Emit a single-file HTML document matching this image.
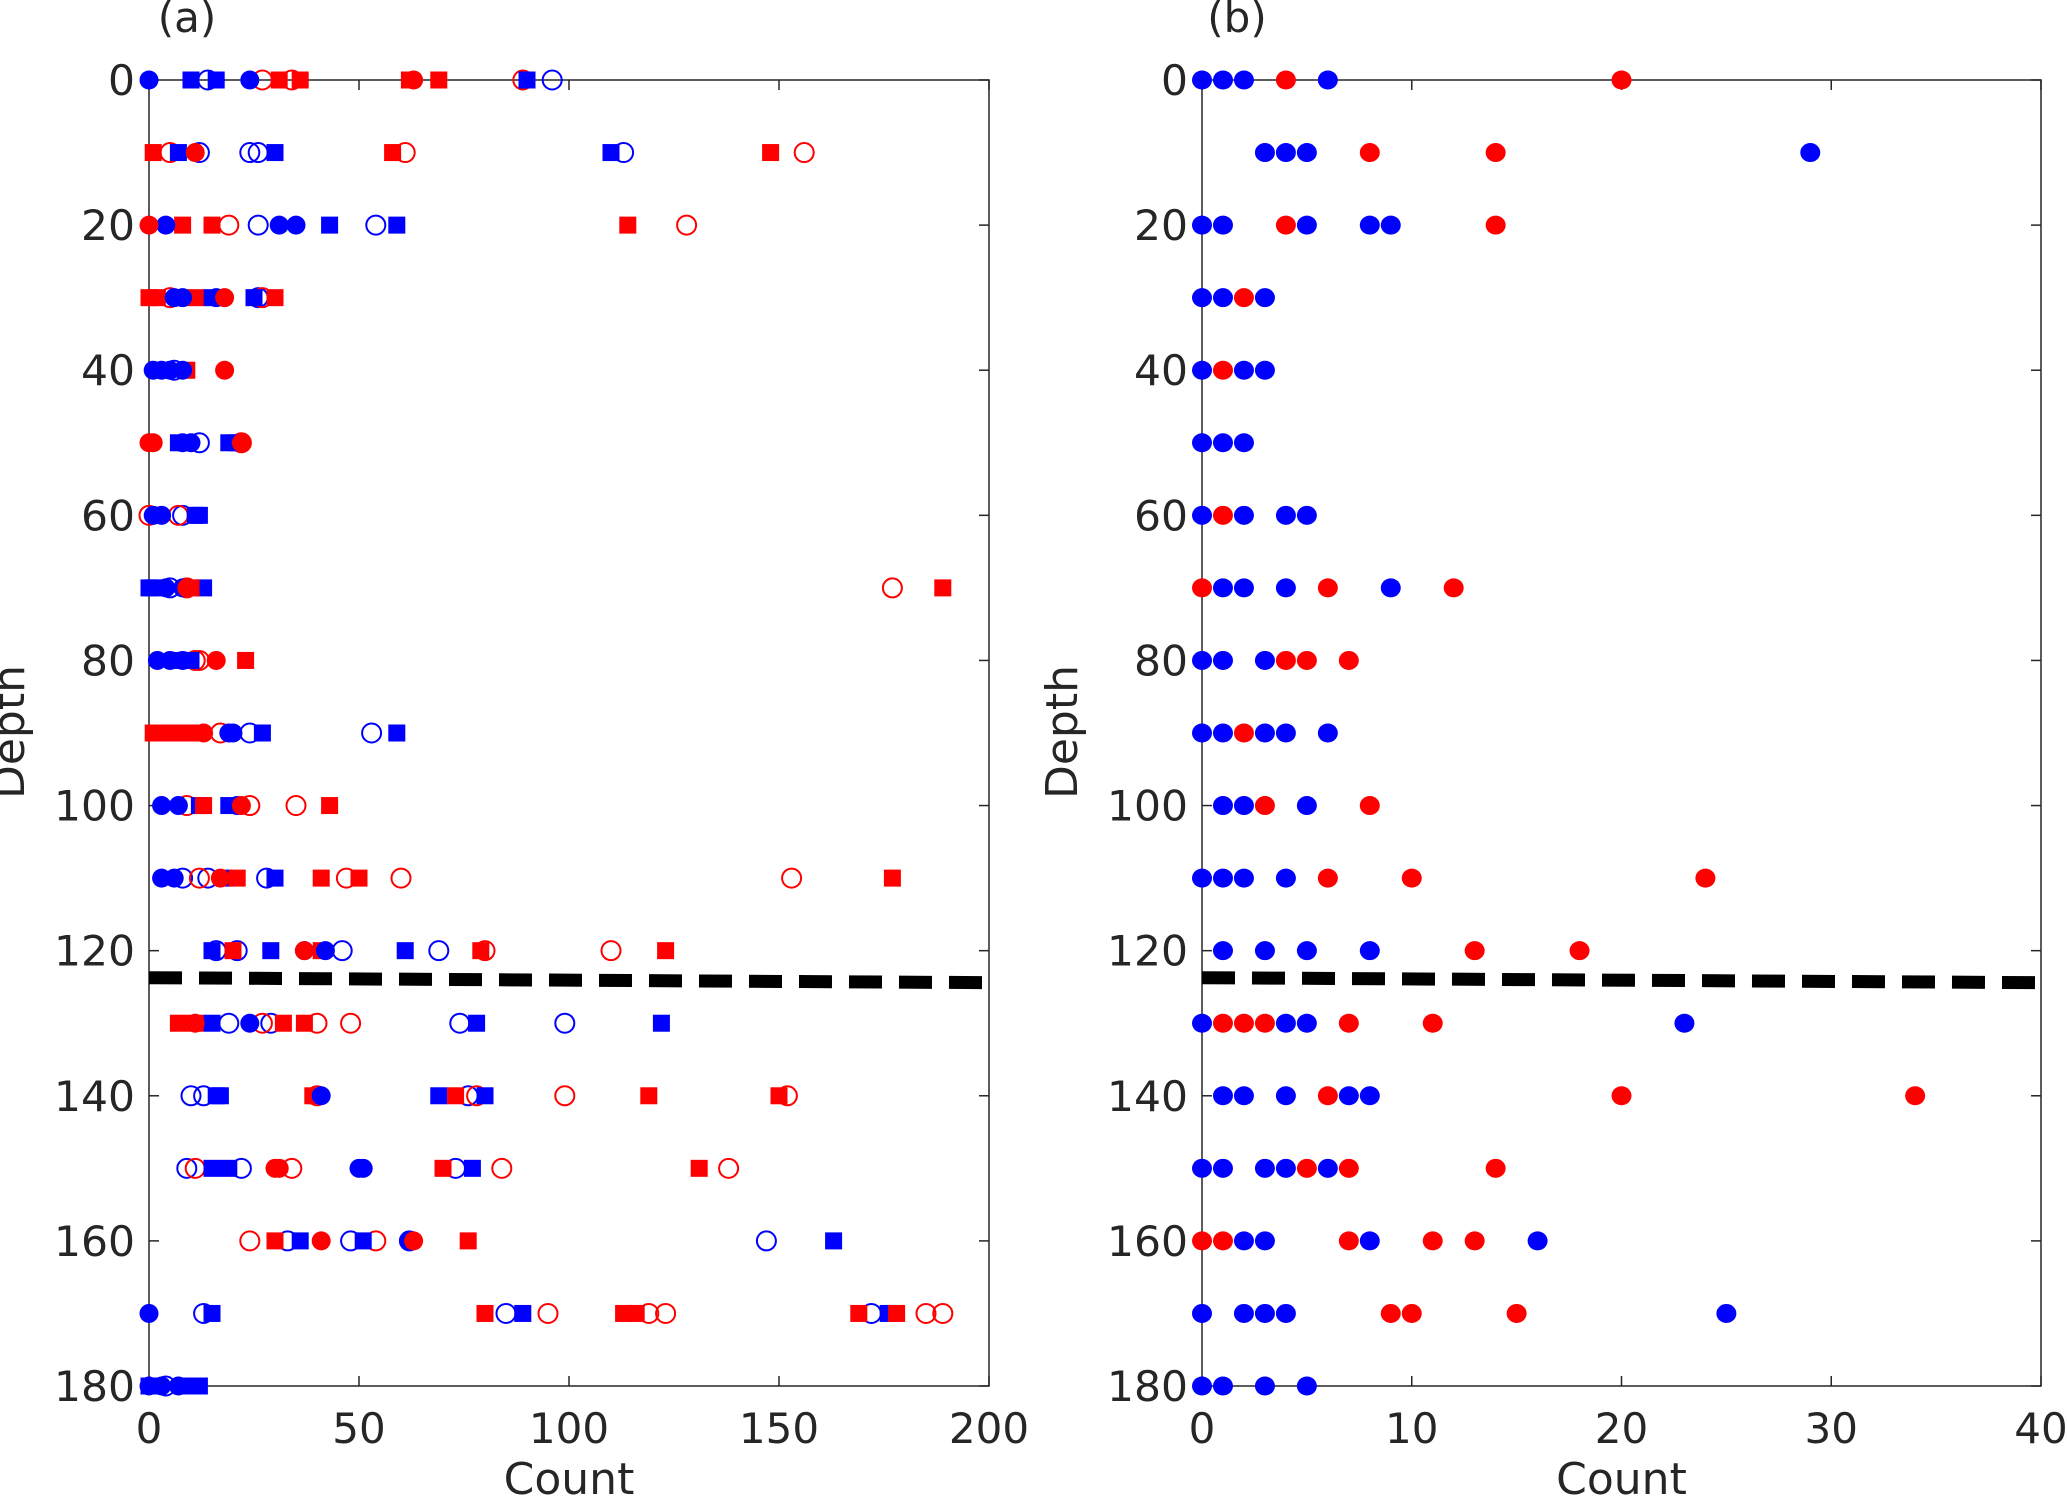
<!DOCTYPE html>
<html><head><meta charset="utf-8"><style>
html,body{margin:0;padding:0;background:#fff}
svg{display:block}
text{font-family:"DejaVu Sans","Liberation Sans",sans-serif;fill:#262626}
</style></head><body>
<svg id="chart" width="2067" height="1499" viewBox="0 0 2067 1499" xmlns="http://www.w3.org/2000/svg"></svg>
<script>
// ---- Panel (a) data: [depth, count]
const depthTicks = [0,20,40,60,80,100,120,140,160,180];
const aXTicks = [0,50,100,150,200];
const bXTicks = [0,10,20,30,40];
const boundaryDepth = 124;
const aBlueDot = [[0,0],[0,24],[20,4],[20,31],[20,35],[30,6],[30,8],[30,16],[40,1],[40,3],[40,5],[40,8],[50,8],[50,10],[60,1],[60,3],[70,4],[70,8],[80,2],[80,5],[80,8],[90,19],[90,20],[100,3],[100,7],[100,21],[110,3],[110,6],[120,37],[120,42],[130,24],[140,41],[150,50],[150,51],[160,62],[170,0],[180,0],[180,3],[180,7]];
const aBlueSq = [[0,10],[0,16],[0,90],[10,7],[10,30],[10,110],[20,43],[20,59],[30,15],[30,25],[50,7],[50,19],[50,21],[60,11],[60,12],[70,0],[70,1],[70,13],[80,6],[80,10],[90,27],[90,59],[100,12],[100,19],[110,18],[110,30],[120,15],[120,29],[120,61],[130,15],[130,78],[130,122],[140,16],[140,17],[140,69],[140,80],[150,15],[150,19],[150,77],[160,36],[160,51],[160,163],[170,15],[170,89],[170,176],[180,0],[180,2],[180,8],[180,12]];
const aBlueOpen = [[0,14],[0,96],[10,12],[10,24],[10,26],[10,113],[20,26],[20,54],[30,26],[40,6],[50,12],[60,8],[70,5],[90,24],[90,53],[110,8],[110,14],[110,28],[120,16],[120,21],[120,46],[120,69],[130,19],[130,29],[130,74],[130,99],[140,10],[140,13],[140,76],[150,9],[150,22],[150,73],[160,33],[160,48],[160,62],[160,147],[170,13],[170,85],[170,172],[180,4]];
const aRedDot = [[0,63],[10,11],[20,0],[30,18],[40,18],[50,0],[50,1],[50,22],[70,9],[80,16],[90,13],[100,22],[110,17],[120,37],[130,11],[150,30],[150,31],[160,41],[160,63]];
const aRedSq = [[0,31],[0,36],[0,62],[0,69],[10,1],[10,58],[10,148],[20,8],[20,15],[20,114],[30,0],[30,2],[30,11],[30,30],[40,9],[70,10],[70,189],[80,23],[90,1],[90,5],[90,8],[90,11],[100,13],[100,43],[110,21],[110,41],[110,50],[110,177],[120,20],[120,41],[120,79],[120,123],[130,7],[130,11],[130,32],[130,37],[140,39],[140,73],[140,119],[140,150],[150,70],[150,131],[160,30],[160,76],[170,80],[170,113],[170,116],[170,169],[170,178]];
const aRedOpen = [[0,27],[0,34],[0,89],[10,5],[10,61],[10,156],[20,19],[20,128],[30,5],[30,27],[50,22],[60,0],[60,7],[70,9],[70,177],[80,11],[80,12],[90,17],[100,9],[100,24],[100,35],[110,12],[110,47],[110,60],[110,153],[120,80],[120,110],[130,27],[130,40],[130,48],[140,40],[140,78],[140,99],[140,152],[150,11],[150,34],[150,84],[150,138],[160,24],[160,54],[170,95],[170,119],[170,123],[170,185],[170,189]];
// ---- Panel (b) data: [depth, count]
const bBlue = [[0,0],[0,1],[0,2],[0,6],[10,3],[10,4],[10,5],[10,29],[20,0],[20,1],[20,5],[20,8],[20,9],[30,0],[30,1],[30,3],[40,0],[40,2],[40,3],[50,0],[50,1],[50,2],[60,0],[60,2],[60,4],[60,5],[70,1],[70,2],[70,4],[70,9],[80,0],[80,1],[80,3],[90,0],[90,1],[90,3],[90,4],[90,6],[100,1],[100,2],[100,5],[110,0],[110,1],[110,2],[110,4],[120,1],[120,3],[120,5],[120,8],[130,0],[130,4],[130,5],[130,23],[140,1],[140,2],[140,4],[140,7],[140,8],[150,0],[150,1],[150,3],[150,4],[150,6],[160,2],[160,3],[160,8],[160,16],[170,0],[170,2],[170,3],[170,4],[170,25],[180,0],[180,1],[180,3],[180,5]];
const bRed = [[0,4],[0,20],[10,8],[10,14],[20,4],[20,14],[30,2],[40,1],[60,1],[70,0],[70,6],[70,12],[80,4],[80,5],[80,7],[90,2],[100,3],[100,8],[110,6],[110,10],[110,24],[120,13],[120,18],[130,1],[130,2],[130,3],[130,7],[130,11],[140,6],[140,20],[140,34],[150,5],[150,7],[150,14],[160,0],[160,1],[160,7],[160,11],[160,13],[170,9],[170,10],[170,15]];

const NS='http://www.w3.org/2000/svg';
const svg=document.getElementById('chart');
function mk(tag,attrs,parent){const e=document.createElementNS(NS,tag);for(const k in attrs)e.setAttribute(k,attrs[k]);(parent||svg).appendChild(e);return e;}

const Y0=80,Y1=1386;
function yScale(d){return Y0+(d/180)*(Y1-Y0);}

function panel(name,label,x0,x1,xmax,xticks,labelX,depthX,series){
  const g=mk('g',{});
  
  
  const xs=v=>x0+(v/xmax)*(x1-x0);
  const box=mk('rect',{x:x0,y:Y0,width:x1-x0,height:Y1-Y0,fill:'none',stroke:'#262626','stroke-width':1.5},g);
  
  
  depthTicks.forEach(d=>{
    const y=yScale(d);
    mk('line',{x1:x0,y1:y,x2:x0+10,y2:y,stroke:'#262626','stroke-width':1.5},g);
    mk('line',{x1:x1,y1:y,x2:x1-10,y2:y,stroke:'#262626','stroke-width':1.5},g);
    const t=mk('text',{x:x0-14,y:y+15,'text-anchor':'end','font-size':42,'textLength':(String(d).length*27),'lengthAdjust':'spacingAndGlyphs'},g);
    t.textContent=d;
    
    
  });
  xticks.forEach(v=>{
    const x=xs(v);
    mk('line',{x1:x,y1:Y1,x2:x,y2:Y1-10,stroke:'#262626','stroke-width':1.5},g);
    mk('line',{x1:x,y1:Y0,x2:x,y2:Y0+10,stroke:'#262626','stroke-width':1.5},g);
    const t=mk('text',{x:x,y:1443,'text-anchor':'middle','font-size':42},g);
    t.textContent=v;
    
    
  });
  const xt=mk('text',{x:(x0+x1)/2,y:1494,'text-anchor':'middle','font-size':44},g);
  xt.textContent='Count';
  
  
  const yt=mk('text',{x:0,y:0,'text-anchor':'middle','font-size':44,transform:`translate(${depthX},732) rotate(-90)`},g);
  yt.textContent='Depth';
  
  
  const pl=mk('text',{x:labelX,y:32,'text-anchor':'middle','font-size':42},g);
  pl.textContent=label;
  
  
  series.forEach(s=>{
    s.data.forEach(p=>{
      const cx=xs(p[1]),cy=yScale(p[0]);
      let m;
      if(s.shape==='sq'){m=mk('rect',{x:cx-8.5,y:cy-8.5,width:17,height:17,fill:s.color},g);}
      else if(s.shape==='open'){m=mk('circle',{cx:cx,cy:cy,r:9.5,fill:'none',stroke:s.color,'stroke-width':2},g);}
      else {m=mk('ellipse',{cx:cx,cy:cy,rx:s.rx||9.5,ry:9.5,fill:s.color},g);}
      
      
    });
  });
  const dl=mk('line',{x1:x0,y1:yScale(boundaryDepth)-2,x2:x1+3,y2:yScale(boundaryDepth)+3,stroke:'#000','stroke-width':13,'stroke-dasharray':'33 17'},g);
  
  
}

panel('panel-a','(a)',149,989,200,aXTicks,187,24,[
  {name:'blue-open-circle',shape:'open',color:'#0000ff',data:aBlueOpen},
  {name:'red-open-circle',shape:'open',color:'#ff0000',data:aRedOpen},
  {name:'blue-square',shape:'sq',color:'#0000ff',data:aBlueSq},
  {name:'red-square',shape:'sq',color:'#ff0000',data:aRedSq},
  {name:'blue-dot',shape:'dot',color:'#0000ff',data:aBlueDot},
  {name:'red-dot',shape:'dot',color:'#ff0000',data:aRedDot}
]);
panel('panel-b','(b)',1202,2041,40,bXTicks,1237,1077,[
  {name:'blue-dot',shape:'dot',color:'#0000ff',rx:10,data:bBlue},
  {name:'red-dot',shape:'dot',color:'#ff0000',rx:10,data:bRed}
]);
</script>
</body></html>
